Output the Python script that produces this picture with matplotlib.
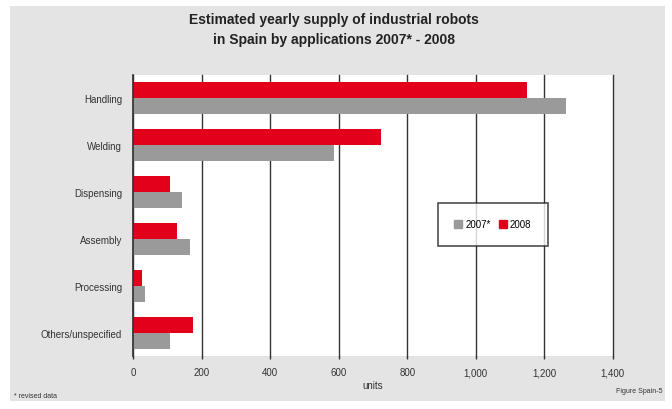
import matplotlib
matplotlib.use("Agg")
import matplotlib.pyplot as plt
from matplotlib.patches import Rectangle, Patch
import numpy as np

categories = ["Handling", "Welding", "Dispensing", "Assembly", "Processing", "Others/unspecified"]
values_2007 = [1265, 585, 141, 167, 35, 107]
values_2008 = [1150, 723, 107, 129, 26, 175]
xticks = [0, 200, 400, 600, 800, 1000, 1200, 1400]
xtick_labels = ["0", "200", "400", "600", "800", "1,000", "1,200", "1,400"]

plt.rcParams['font.family'] = ['Liberation Sans', 'DejaVu Sans']

RED = "#E2001A"
GRAY = "#9A9A9A"
PANEL = "#E4E4E4"

fig = plt.figure(figsize=(6.72, 4.10), dpi=100)
fig.patch.set_facecolor("white")
fig.patches.append(Rectangle((10/672, 8/410), 655/672, 395/410, transform=fig.transFigure,
                             facecolor=PANEL, edgecolor="none", zorder=-10))

ax = fig.add_axes([133.3/672, 1 - 357/410, 479.4/672, 281/410])
ax.set_facecolor("white")

y = np.arange(len(categories))
h = 0.34
ax.barh(y - h/2, values_2008, height=h, color=RED, label="2008", zorder=3)
ax.barh(y + h/2, values_2007, height=h, color=GRAY, label="2007*", zorder=3)

ax.set_ylim(5.5, -0.5)
ax.set_xlim(0, 1400)
ax.set_xticks(xticks)
ax.set_xticklabels(xtick_labels, fontsize=7, color="#333333")
ax.set_yticks(y)
ax.set_yticklabels(categories, fontsize=7, color="#333333")
ax.tick_params(axis="y", length=0, pad=8)
ax.tick_params(axis="x", length=2, width=1, color="#333333", pad=6)
ax.xaxis.grid(True, color="#333333", linewidth=1, zorder=1)
for gl in ax.get_xgridlines():
    gl.set_clip_on(False)
for s in ["top", "right", "bottom"]:
    ax.spines[s].set_visible(False)
ax.spines["left"].set_color("#333333")
ax.spines["left"].set_linewidth(1.2)
ax.spines["left"].set_zorder(4)

ax.set_xlabel("units", fontsize=7, color="#333333", labelpad=2)

handles = [Patch(color=GRAY, label="2007*"), Patch(color=RED, label="2008")]
leg = ax.legend(handles=handles, loc="center", bbox_to_anchor=(493/672, 1 - 225.5/410),
                bbox_transform=fig.transFigure, ncol=2, fontsize=7, frameon=True,
                fancybox=False, edgecolor="#222222", handlelength=0.8, handleheight=0.8,
                handletextpad=0.3, columnspacing=0.9, borderpad=1.7)
leg.get_frame().set_linewidth(1.2)
leg.set_zorder(5)

fig.text(334/672, 1 - 30/410, "Estimated yearly supply of industrial robots\nin Spain by applications 2007* - 2008",
         ha="center", va="center", fontsize=10, fontweight="bold", color="#222222", linespacing=1.5)
fig.text(14/672, 1 - 397/410, "* revised data", ha="left", va="center", fontsize=5, color="#333333")
fig.text(662/672, 1 - 392/410, "Figure Spain-5", ha="right", va="center", fontsize=5, color="#333333")

fig.savefig("out.png", dpi=100)
